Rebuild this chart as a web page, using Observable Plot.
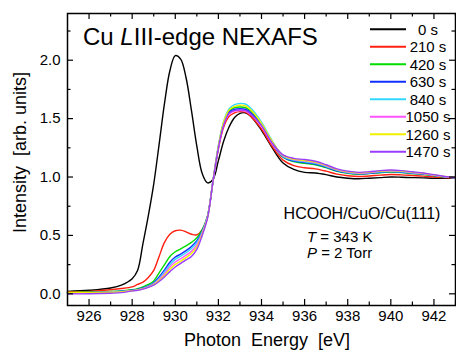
<!DOCTYPE html>
<html><head><meta charset="utf-8">
<script src="https://cdn.jsdelivr.net/npm/d3@7"></script>
<script src="https://cdn.jsdelivr.net/npm/@observablehq/plot@0.6"></script>
<style>body{margin:0;background:#fff}</style>
</head><body><div id="chart"></div>
<script>
const energy = [925,926,927,927.5,928,928.25,928.5,928.75,929,929.25,929.5,929.75,930,930.25,930.5,930.75,931,931.25,931.5,931.75,932,932.25,932.5,932.75,933,933.25,933.5,934,934.5,935,935.5,936,936.5,937,937.5,938,938.5,939,939.5,940,940.5,941,941.5,942,942.5,943];
const times = ["0 s","210 s","420 s","630 s","840 s","1050 s","1260 s","1470 s"];
const colors = ["#000000","#ff2010","#00dd00","#1030ff","#30d8ff","#ff55ff","#f0f000","#9a3cff"];
const s0    = [0.02,0.03,0.05,0.075,0.13,0.20,0.43,0.67,0.94,1.28,1.63,1.91,2.04,2.01,1.85,1.57,1.265,1.03,0.95,0.98,1.14,1.31,1.43,1.51,1.545,1.55,1.52,1.40,1.25,1.12,1.065,1.04,1.035,1.02,1.0,0.99,0.985,0.99,0.995,1.0,0.998,0.995,0.993,0.99,0.99,0.99];
const s210  = [0.015,0.02,0.035,0.045,0.06,0.08,0.10,0.14,0.20,0.32,0.44,0.51,0.54,0.545,0.53,0.51,0.505,0.55,0.67,0.96,1.24,1.43,1.52,1.55,1.56,1.555,1.52,1.41,1.26,1.145,1.098,1.079,1.07,1.05,1.025,1.011,1.004,1.009,1.016,1.021,1.018,1.013,1.008,1.0,0.995,0.992];
const s420  = [0.01,0.015,0.02,0.025,0.035,0.045,0.06,0.08,0.11,0.18,0.25,0.32,0.36,0.385,0.41,0.44,0.48,0.55,0.67,0.965,1.26,1.47,1.565,1.595,1.60,1.595,1.565,1.45,1.29,1.169,1.132,1.117,1.105,1.08,1.049,1.032,1.024,1.029,1.037,1.042,1.038,1.03,1.022,1.011,1.0,0.994];
const s630  = [0.01,0.012,0.018,0.022,0.03,0.037,0.05,0.068,0.095,0.145,0.205,0.27,0.315,0.34,0.37,0.405,0.455,0.535,0.665,0.965,1.255,1.46,1.555,1.58,1.585,1.58,1.55,1.44,1.285,1.173,1.137,1.124,1.111,1.085,1.053,1.036,1.027,1.032,1.041,1.046,1.041,1.033,1.025,1.013,1.001,0.994];
const s840  = [0.008,0.01,0.015,0.02,0.028,0.034,0.046,0.063,0.088,0.132,0.188,0.25,0.295,0.322,0.352,0.388,0.44,0.53,0.665,0.97,1.27,1.48,1.585,1.62,1.63,1.625,1.59,1.47,1.31,1.177,1.143,1.13,1.117,1.09,1.057,1.039,1.03,1.035,1.044,1.049,1.045,1.036,1.027,1.015,1.002,0.994];
const s1050 = [0.006,0.008,0.012,0.017,0.027,0.033,0.044,0.06,0.083,0.122,0.172,0.23,0.272,0.30,0.33,0.365,0.42,0.52,0.66,0.965,1.25,1.45,1.54,1.565,1.57,1.565,1.535,1.435,1.285,1.182,1.149,1.137,1.123,1.095,1.062,1.043,1.033,1.038,1.048,1.053,1.048,1.039,1.03,1.016,1.003,0.994];
const s1260 = [0.012,0.012,0.013,0.016,0.026,0.032,0.042,0.057,0.079,0.113,0.158,0.21,0.252,0.28,0.31,0.345,0.40,0.51,0.655,0.97,1.265,1.475,1.575,1.605,1.615,1.61,1.575,1.46,1.305,1.185,1.153,1.142,1.128,1.099,1.065,1.046,1.036,1.041,1.051,1.056,1.051,1.042,1.032,1.018,1.004,0.995];
const s1470 = [0.0,0.0,0.005,0.01,0.025,0.03,0.04,0.055,0.075,0.105,0.145,0.19,0.23,0.26,0.29,0.32,0.38,0.50,0.65,0.965,1.25,1.45,1.545,1.57,1.575,1.57,1.54,1.44,1.29,1.19,1.16,1.15,1.135,1.105,1.07,1.05,1.04,1.045,1.055,1.06,1.055,1.045,1.035,1.02,1.005,0.995];
const series = [s0,s210,s420,s630,s840,s1050,s1260,s1470];
const xMajor = [926,928,930,932,934,936,938,940,942];
const xMinor = [927,929,931,933,935,937,939,941,943];
const yMajor = [0,0.5,1,1.5,2];
const yMinor = [0.25,0.75,1.25,1.75,2.25];

const W = 456, H = 352, mL = 67, mR = 1, mT = 13, mB = 47;
const fw = W - mL - mR, fh = H - mT - mB;
const font = "Arial, 'Liberation Sans', sans-serif";

const rows = times.flatMap((t, i) => energy.map((e, j) => ({t, e, v: series[i][j]})));

const svg = Plot.plot({
  width: W, height: H,
  marginLeft: mL, marginRight: mR, marginTop: mT, marginBottom: mB,
  style: {fontFamily: font, background: "#fff", color: "#000"},
  x: {domain: [925, 943]},
  y: {domain: [-0.1, 2.4]},
  color: {domain: times, range: colors},
  marks: [
    Plot.lineY(rows, {x: "e", y: "v", z: "t", stroke: "t", strokeWidth: 1.4, curve: "catmull-rom"}),
    Plot.tickX(xMajor, {x: d => d, insetTop: fh - 6, stroke: "#000", strokeWidth: 1.2}),
    Plot.tickX(xMinor, {x: d => d, insetTop: fh - 3.5, stroke: "#000", strokeWidth: 1.2}),
    Plot.tickX(xMajor, {x: d => d, insetBottom: fh - 6, stroke: "#000", strokeWidth: 1.2}),
    Plot.tickX(xMinor, {x: d => d, insetBottom: fh - 3.5, stroke: "#000", strokeWidth: 1.2}),
    Plot.tickY(yMajor, {y: d => d, insetRight: fw - 6, stroke: "#000", strokeWidth: 1.2}),
    Plot.tickY(yMinor, {y: d => d, insetRight: fw - 3.5, stroke: "#000", strokeWidth: 1.2}),
    Plot.tickY(yMajor, {y: d => d, insetLeft: fw - 6, stroke: "#000", strokeWidth: 1.2}),
    Plot.tickY(yMinor, {y: d => d, insetLeft: fw - 3.5, stroke: "#000", strokeWidth: 1.2}),
    Plot.frame({stroke: "#000", strokeWidth: 1.5}),
    Plot.axisX({ticks: xMajor, tickSize: 0, tickPadding: 5, fontSize: 15, label: null}),
    Plot.axisY({ticks: yMajor, tickSize: 0, tickPadding: 7, fontSize: 15, label: null, tickFormat: d3.format(".1f")})
  ]
});
document.getElementById("chart").appendChild(svg);

const s = d3.select(svg);
const g = s.append("g").attr("font-family", font).attr("fill", "#000").attr("text-anchor", "start");

// title
const title = g.append("text").attr("x", 83).attr("y", 45).attr("font-size", 24).attr("text-anchor", "start").style("white-space", "pre");
title.append("tspan").text("Cu ");
title.append("tspan").attr("font-style", "italic").text("L");
title.append("tspan").text("III-edge NEXAFS");

// legend
times.forEach((t, i) => {
  const y = 29.3 + 17.5 * i;
  g.append("line").attr("x1", 370).attr("x2", 406).attr("y1", y).attr("y2", y)
    .attr("stroke", colors[i]).attr("stroke-width", 2);
  g.append("text").attr("x", 428).attr("y", y + 5.5).attr("text-anchor", "middle")
    .attr("font-size", 15).text(t);
});

// annotation
g.append("text").attr("x", 362).attr("y", 219).attr("text-anchor", "middle").attr("font-size", 16).text("HCOOH/CuO/Cu(111)");
const tT = g.append("text").attr("x", 307).attr("y", 242).attr("font-size", 15).attr("text-anchor", "start").style("white-space", "pre");
tT.append("tspan").attr("font-style", "italic").text("T");
tT.append("tspan").text(" = 343 K");
const tP = g.append("text").attr("x", 307).attr("y", 258).attr("font-size", 15).attr("text-anchor", "start").style("white-space", "pre");
tP.append("tspan").attr("font-style", "italic").text("P");
tP.append("tspan").text(" = 2 Torr");

// axis titles
g.append("text").attr("transform", "translate(20,152.5) rotate(-90)").attr("text-anchor", "middle")
  .attr("dominant-baseline", "central").attr("font-size", 18).style("white-space", "pre").text("Intensity  [arb. units]");
g.append("text").attr("x", 267).attr("y", 346).attr("text-anchor", "middle")
  .attr("font-size", 18).style("white-space", "pre").text("Photon  Energy  [eV]");
</script>
</body></html>
